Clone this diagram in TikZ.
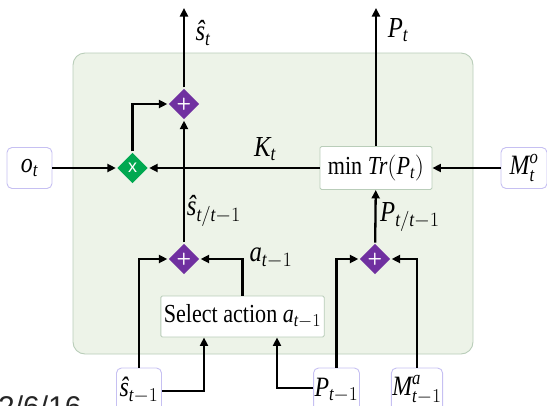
\documentclass[tikz,border=0pt]{standalone}
\usepackage{fix-cm}
\usepackage{amsmath}
\usepackage{fontspec}
\setmainfont[FakeStretch=0.85]{Liberation Serif}
\newfontfamily\datefont{Liberation Sans}
\usetikzlibrary{arrows.meta,shapes.geometric,backgrounds}
\definecolor{panel}{HTML}{EDF3E8}
\definecolor{panelln}{HTML}{B9CDB9}
\definecolor{lav}{HTML}{C6C0F2}
\definecolor{plum}{HTML}{7030A0}
\definecolor{mint}{HTML}{00A850}
\newcommand{\vi}[1]{\textit{#1}}

\begin{document}
\begin{tikzpicture}[
  x=1pt,y=-1pt,
  font=\fontsize{26}{28}\selectfont,
  lab/.style={font=\fontsize{29}{31}\selectfont,inner sep=1pt},
  inp/.style={draw=lav,line width=0.9pt,rounded corners=5pt,fill=white,minimum width=45pt,minimum height=41pt,inner sep=1pt,font=\fontsize{28}{30}\selectfont},
  op/.style={draw=panelln,line width=0.9pt,rounded corners=1.5pt,fill=white,minimum height=43pt,inner sep=3pt},
  sum/.style={diamond,fill=plum,minimum size=31pt,inner sep=0pt,text=white,font=\fontsize{17}{17}\sffamily\bfseries},
  >={Triangle[length=8.5pt,width=8pt]},
  line width=2.3pt
]
\useasboundingbox (0,0) rectangle (547,405);
\fill[panel,draw=panelln,line width=0.9pt,rounded corners=12pt] (73,53) rectangle (473,354);

% summing and gain junctions
\node[sum,fill=mint,font=\fontsize{18}{18}\datefont] (x) at (132.5,168) {x};
\node[sum] (p1) at (184,104) {+};
\node[sum] (p2) at (184,259) {+};
\node[sum] (p3) at (375,259) {+};

% blocks
\node[op,minimum width=112pt] (tr) at (376,168) {min $\vi{Tr}(\vi{P}_{\vi{t}})$};
\node[op,minimum width=161pt,minimum height=41pt] (sel) at (242.5,316.5) {Select action $\vi{a}_{\vi{t}-1}$};

% inputs
\node[inp] (o) at (29.5,168) {$\vi{o}_{\vi{t}}$};
\node[inp,minimum width=46pt] (mo) at (524,168) {$\vi{M}^{\vi{o}}_{\vi{t}}$};
\node[inp,minimum height=44pt] (sp) at (139,390) {$\vi{ŝ}_{\vi{t}-1}$};
\node[inp,minimum height=44pt] (pp) at (336.5,390) {$\vi{P}_{\vi{t}-1}$};
\node[inp,minimum height=44pt] (ma) at (417,390) {$\vi{M}^{\vi{a}}_{\vi{t}-1}$};

\coordinate (st) at (184,8);
\coordinate (pt) at (376,8);

\draw[->] (o) -- (x);
\draw[->] (tr) -- (x) node[lab,pos=0.32,above=5pt] {$\vi{K}_{\vi{t}}$};
\draw[->] (x) |- (p1);
\draw[->] (p1) -- (st);
\draw[->] (tr) -- (pt);
\draw[->] (p2) -- (p1);
\draw[->] (mo) -- (tr);
\draw[->] (p3) -- (tr);
\draw[->] (sp.north) |- (p2);
\draw[->] (sel.north) |- (p2);
\draw[->] ([yshift=-1pt]sp.east) -| ([xshift=-38.5pt]sel.south);
\draw[->] ([yshift=2pt]pp.west) -| ([xshift=34.5pt]sel.south);
\draw[->] (pp.north) |- (p3);
\draw[->] (ma.north) |- (p3);

% signal labels
\node[lab] at (203,33) {$\vi{ŝ}_{\vi{t}}$};
\node[lab] at (398,30) {$\vi{P}_{\vi{t}}$};
\node[lab] at (214,211) {$\vi{ŝ}_{\vi{t}/\vi{t}-1}$};
\node[lab] at (410,217) {$\vi{P}_{\vi{t}/\vi{t}-1}$};
\node[lab] at (271,258) {$\vi{a}_{\vi{t}-1}$};

\node[anchor=base west,inner sep=0pt,font=\fontsize{30}{30}\datefont,text=black!85] (date) at (-3,417) {2/6/16};
\end{tikzpicture}
\end{document}
